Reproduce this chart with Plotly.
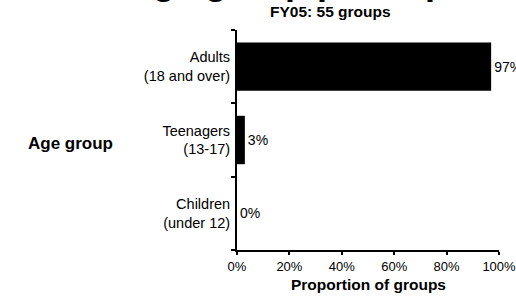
import plotly.graph_objects as go

categories = ["Adults<br>(18 and over)", "Teenagers<br>(13-17)", "Children<br>(under 12)"]
values = [0.97, 0.03, 0.0]
value_labels = ["97%", "3%", "0%"]
x_ticks = [0, 0.2, 0.4, 0.6, 0.8, 1.0]
x_tick_labels = ["0%", "20%", "40%", "60%", "80%", "100%"]

FONT = "Liberation Sans, Arial, sans-serif"

fig = go.Figure(go.Bar(
    y=categories,
    x=values,
    orientation="h",
    marker=dict(color="black", line=dict(width=0)),
    width=0.66,
    text=value_labels,
    textposition="outside",
    textfont=dict(family=FONT, size=14, color="black"),
    cliponaxis=False,
    hoverinfo="skip",
))

fig.update_layout(
    template="none",
    width=516, height=296,
    margin=dict(l=237, r=17, t=30, b=46, autoexpand=False),
    paper_bgcolor="white", plot_bgcolor="white",
    showlegend=False,
    font=dict(family=FONT, size=13, color="black"),
    xaxis=dict(
        automargin=False,
        range=[0, 1], tickvals=x_ticks, ticktext=x_tick_labels,
        tickfont=dict(size=13), ticklabeloverflow="allow",
        showgrid=False, zeroline=False,
        showline=True, linecolor="black", linewidth=2,
        ticks="outside", ticklen=3, tickwidth=1.5, tickcolor="black",
    ),
    yaxis=dict(
        automargin=False,
        categoryorder="array", categoryarray=categories[::-1],
        range=[-0.5, 2.5],
        tickfont=dict(size=14.5),
        showgrid=False, zeroline=False,
        showline=True, linecolor="black", linewidth=2,
        ticks="outside", ticklen=4, tickwidth=1.5, tickcolor="black",
        tickson="boundaries", ticklabelstandoff=2,
    ),
    annotations=[
        dict(text="<b>Age group participation</b>", xref="paper", yref="paper",
             x=0.355, y=1.119, xanchor="center", yanchor="bottom",
             showarrow=False, font=dict(size=36)),
        dict(text="<b>FY05: 55 groups</b>", xref="paper", yref="paper",
             x=0.355, y=1.036, xanchor="center", yanchor="bottom",
             showarrow=False, font=dict(size=15.5)),
        dict(text="<b>Age group</b>", xref="paper", yref="paper",
             x=-0.466, y=0.486, xanchor="right", yanchor="middle",
             showarrow=False, font=dict(size=17)),
        dict(text="<b>Proportion of groups</b>", xref="paper", yref="paper",
             x=0.5, y=-0.155, xanchor="center", yanchor="middle",
             showarrow=False, font=dict(size=15.5)),
    ],
)

fig.write_html("out.html", config={"displayModeBar": False},
               post_script="document.body.style.margin='0px';")
